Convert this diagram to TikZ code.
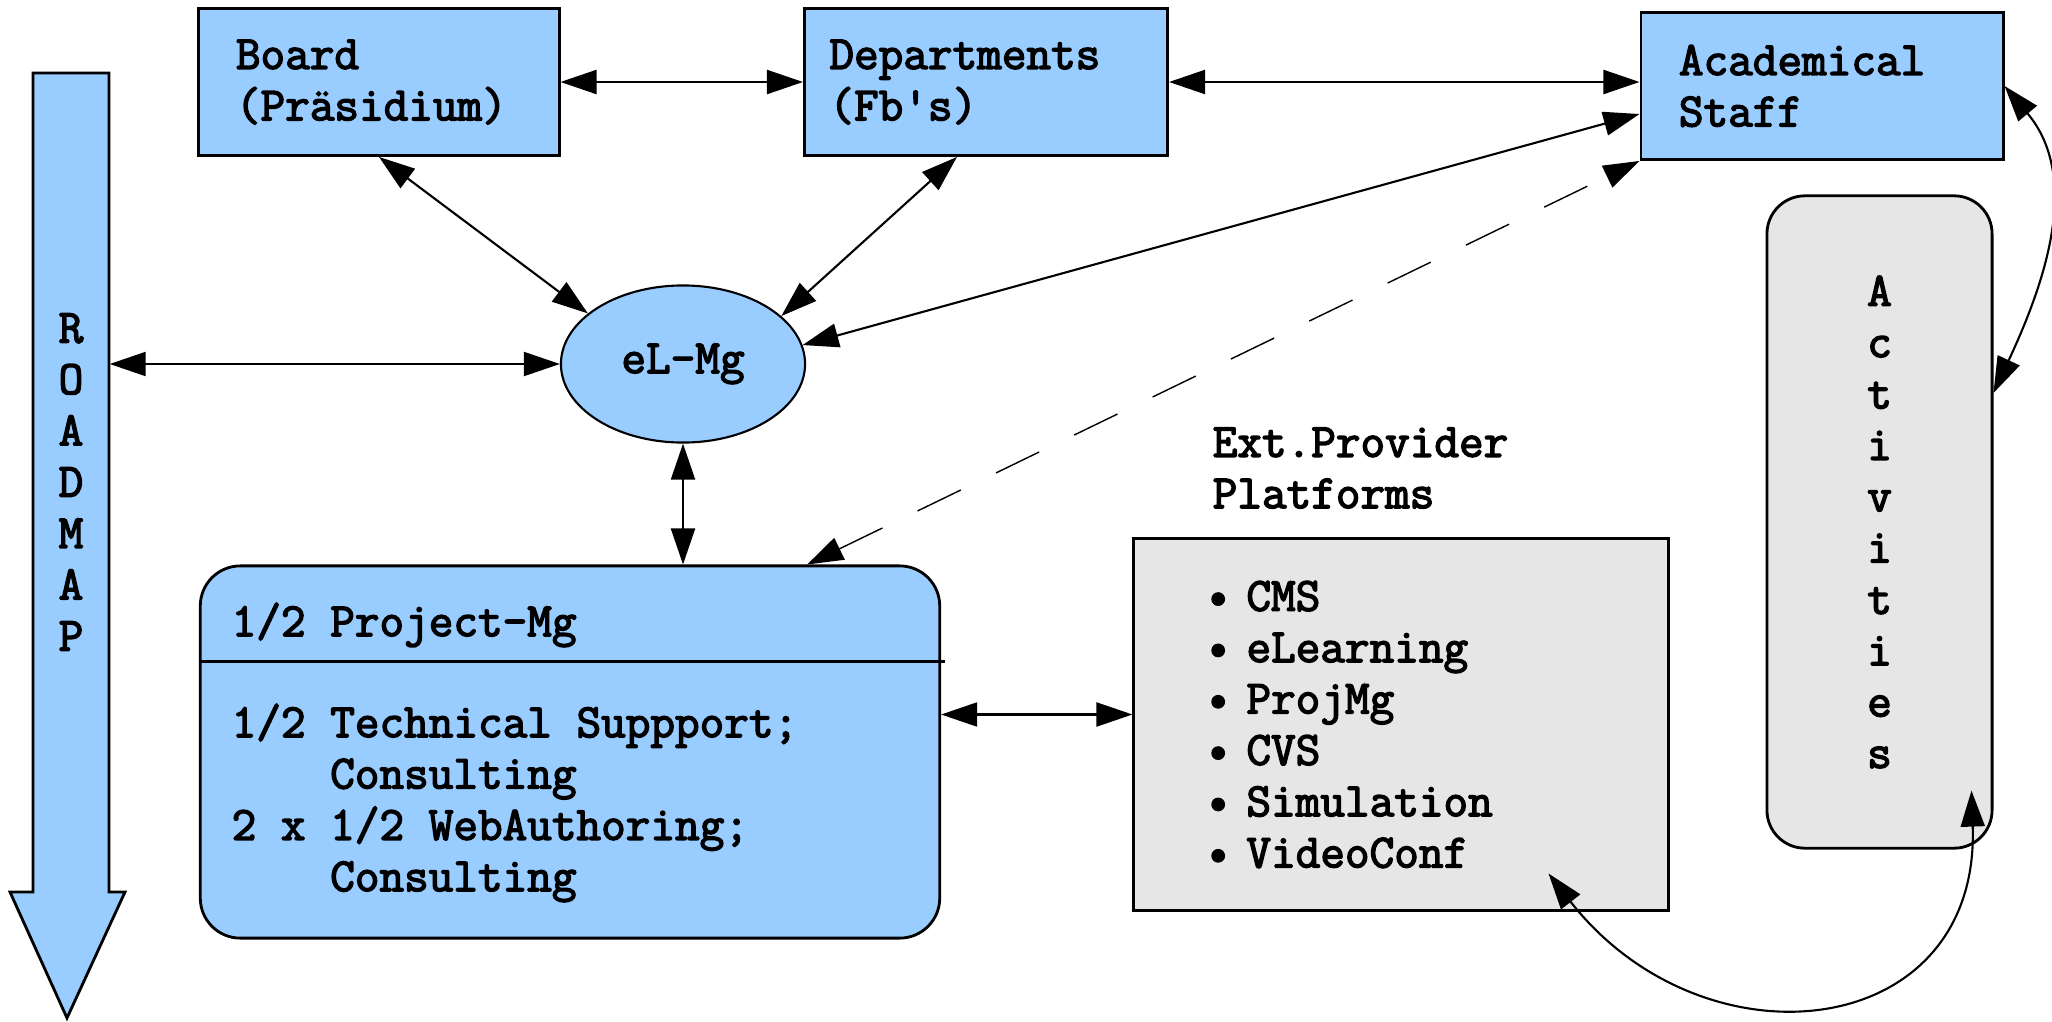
\documentclass[tikz,border=0pt]{standalone}
\usepackage{fontspec}
\setmonofont{Latin Modern Mono}[FakeBold=3]
\usetikzlibrary{shapes.geometric,arrows.meta}
\definecolor{boxblue}{RGB}{153,204,255}
\definecolor{boxgray}{RGB}{230,230,230}
\begin{document}
\begin{tikzpicture}[x=0.01cm,y=-0.01cm,
  font=\ttfamily\fontsize{13.6}{14.6}\selectfont,
  bluebox/.style={rectangle,draw,line width=0.8pt,fill=boxblue,text width=2.86cm,inner xsep=0.37cm,minimum height=1.47cm,align=left},
  projbox/.style={rectangle,draw,line width=0.8pt,fill=boxblue,rounded corners=0.4cm,minimum width=7.39cm,minimum height=3.72cm},
  graybox/.style={rectangle,draw,line width=0.8pt,fill=boxgray,text width=3.9cm,inner xsep=0.72cm,minimum height=3.71cm,align=left},
  actbox/.style={rectangle,draw,line width=0.8pt,fill=boxgray,rounded corners=0.38cm,minimum width=2.25cm,minimum height=6.52cm,align=center},
  txt/.style={inner sep=0,align=left},
  link/.style={<->,>={Triangle[length=0.36cm,width=0.24cm]},line width=0.6pt}]
\useasboundingbox (0,0) rectangle (2052,1021);
% roadmap arrow
\draw[line width=0.8pt,fill=boxblue] (33,73) -- (109,73) -- (109,892) -- (125,892) -- (67,1018) -- (10,892) -- (33,892) -- cycle;
\node[txt,align=center,minimum width=0.76cm] (roadmap) at (71,482) {R\\O\\A\\D\\M\\A\\P};
% boxes
\node[bluebox] (board) at (379,82) {Board\\(Präsidium)};
\node[bluebox,text width=3.13cm,inner xsep=0.25cm] (depts) at (986,82) {Departments\\(Fb's)};
\node[bluebox,inner xsep=0.38cm] (staff) at (1822,86) {Academical\\Staff};
\node[ellipse,draw,line width=0.6pt,fill=boxblue,minimum width=2.44cm,minimum height=1.57cm] (elmg) at (683,364) {eL-Mg};
\node[projbox] (proj) at (570,752) {};
\draw[line width=0.8pt] ([yshift=-0.97cm]proj.north west) -- ([xshift=0.04cm,yshift=-0.97cm]proj.north east);
\node[txt,anchor=west] (projmg) at (231,625) {1/2 Project-Mg};
\node[txt,anchor=west] (projstaff) at (231,803) {1/2 Technical Suppport;\\\phantom{1/2\ }Consulting\\2 x 1/2 WebAuthoring;\\\phantom{1/2\ }Consulting};
\node[txt,anchor=west] (extprov) at (1212,468) {Ext.Provider\\Platforms};
\node[graybox] (plat) at (1401,724.5) {\textbullet{} CMS\\\textbullet{} eLearning\\\textbullet{} ProjMg\\\textbullet{} CVS\\\textbullet{} Simulation\\\textbullet{} VideoConf};
\node[actbox] (act) at (1879.5,522) {A\\c\\t\\i\\v\\i\\t\\i\\e\\s};
% connectors
\coordinate (platin) at ([yshift=0.1cm]plat.west);
\draw[link] (board) -- (depts);
\draw[link] (depts.east) -- (depts.east -| staff.west);
\draw[link] (board.south) -- (elmg.152);
\draw[link] ([xshift=-0.29cm]depts.south) -- (elmg.26);
\draw[link] ([yshift=-0.28cm]staff.west) -- (elmg.9);
\draw[link] (roadmap.east |- elmg.west) -- (elmg.west);
\draw[link] (elmg.south) -- (elmg.south |- proj.north);
\draw[link,line width=0.4pt,dash pattern=on 0.48cm off 0.39cm] ([xshift=2.37cm]proj.north) -- (staff.south west);
\draw[link] (platin -| proj.east) -- (platin);
\draw[link] (staff.east) to[out=-50,in=65] ([yshift=1.29cm]act.east);
\draw[link] ([xshift=-1.21cm,yshift=0.38cm]plat.south east) to[out=-52,in=-88,looseness=1.5] ([xshift=-0.22cm,yshift=0.59cm]act.south east);
\end{tikzpicture}
\end{document}
